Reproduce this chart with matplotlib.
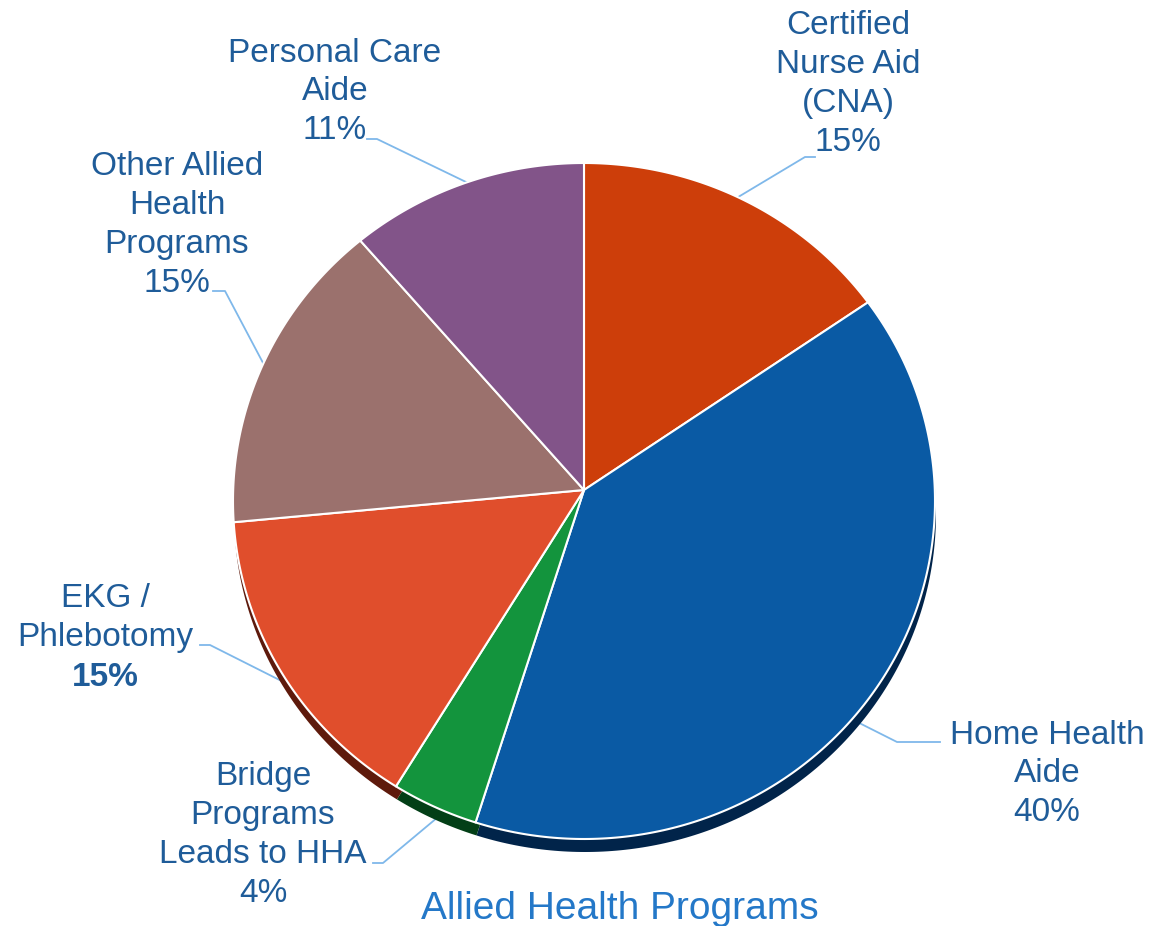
import numpy as np
import matplotlib
matplotlib.use("Agg")
import matplotlib.pyplot as plt

# data, clockwise from 12 o'clock
labels = ["Certified\nNurse Aid\n(CNA)", "Home Health\nAide", "Bridge\nPrograms\nLeads to HHA",
          "EKG /\nPhlebotomy", "Other Allied\nHealth\nPrograms", "Personal Care\nAide"]
shares = [15, 40, 4, 15, 15, 11]
colors = ["#CD3E0A", "#0A5AA4", "#13943D", "#E04E2C", "#9B716D", "#825489"]
shadow_colors = ["#5E1A06", "#01244A", "#033F17", "#5E1A0C", "#4A3230", "#3C2440"]

# layout (pixel space, y up)
W, H = 1172, 926
apex = (584, H - 490)          # where the slices meet
ell_c = (584, H - 501)         # centre of the tilted rim
a, b = 351, 338                # rim semi-axes
depth = 13                     # thickness of the 3d edge

text_pos = [(848, H - 84), (1047, H - 774), (263, H - 835),
            (105, H - 638), (177, H - 225), (335, H - 92)]
elbow = [(805, H - 157), (897, H - 742), (383, H - 863),
         (210, H - 645), (225, H - 291), (377, H - 139)]
elbow_end = [(815, H - 157), (940, H - 742), (373, H - 863),
             (200, H - 645), (213, H - 291), (367, H - 139)]
anchor_off = [-1, 5, -1, -2.4, 0.6, 0.3]   # degrees from slice middle
anchor_frac = [1.0, 0.95, 1.03, 1.0, 1.0, 1.0]

txt_color = "#1F5C99"
line_color = "#7FB8EA"
plt.rcParams['font.family'] = ['Liberation Sans', 'DejaVu Sans']


def rim(t):
    # t in degrees, clockwise from 12 o'clock
    r = np.deg2rad(t)
    return ell_c[0] + a * np.sin(r), ell_c[1] + b * np.cos(r)


def point(t, f):
    ex, ey = rim(t)
    return apex[0] + f * (ex - apex[0]), apex[1] + f * (ey - apex[1])


fig = plt.figure(figsize=(W / 100, H / 100), dpi=100)
ax = fig.add_axes([0, 0, 1, 1])
ax.set_xlim(0, W)
ax.set_ylim(0, H)
ax.set_aspect('equal')
ax.axis('off')

bounds = np.concatenate([[0], np.cumsum(shares)]) / np.sum(shares) * 360

# extruded edge first, then the top face
for i in range(len(shares)):
    t = np.linspace(bounds[i], bounds[i + 1], 200)
    ex, ey = rim(t)
    xs = np.concatenate([[apex[0]], ex]) + 1
    ys = np.concatenate([[apex[1]], ey]) - depth
    ax.fill(xs, ys, color=shadow_colors[i], lw=0, zorder=1)

for i in range(len(shares)):
    t = np.linspace(bounds[i], bounds[i + 1], 200)
    ex, ey = rim(t)
    xs = np.concatenate([[apex[0]], ex])
    ys = np.concatenate([[apex[1]], ey])
    ax.fill(xs, ys, facecolor=colors[i], edgecolor='white', lw=1.5,
            joinstyle='round', zorder=2)

for i in range(len(shares)):
    mid = (bounds[i] + bounds[i + 1]) / 2 + anchor_off[i]
    px, py = point(mid, anchor_frac[i])
    ax.plot([px, elbow[i][0], elbow_end[i][0]], [py, elbow[i][1], elbow_end[i][1]],
            color=line_color, lw=1.3, zorder=0.5)

    tx, ty = text_pos[i]
    if i == 3:
        ax.text(tx, ty + 20, labels[i], ha='center', va='center', fontsize=24,
                color=txt_color, linespacing=1.32)
        ax.text(tx, ty - 39, f"{shares[i]}%", ha='center', va='center', fontsize=24,
                color=txt_color, fontweight='bold')
    else:
        ax.text(tx, ty, labels[i] + f"\n{shares[i]}%", ha='center', va='center',
                fontsize=24, color=txt_color, linespacing=1.32)

ax.text(620, H - 909, "Allied Health Programs", ha='center', va='center',
        fontsize=28, color="#2478C8")

fig.savefig("out.png", dpi=100)
